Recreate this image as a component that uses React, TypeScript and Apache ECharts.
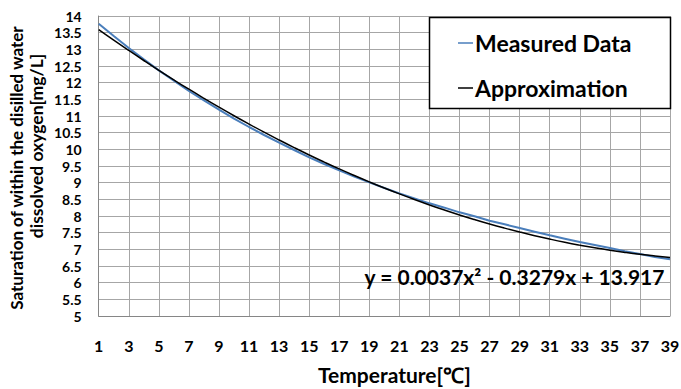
import React, { useEffect, useRef } from "react";
import * as echarts from "echarts";

const temperatures = Array.from({ length: 39 }, (_, i) => String(i + 1));
const measuredData = [
  13.77, 13.4, 13.04, 12.7, 12.37, 12.06, 11.75, 11.47, 11.19, 10.92,
  10.67, 10.43, 10.2, 9.98, 9.76, 9.56, 9.37, 9.18, 9.01, 8.84,
  8.68, 8.53, 8.38, 8.25, 8.11, 7.99, 7.86, 7.75, 7.64, 7.53,
  7.42, 7.32, 7.22, 7.13, 7.04, 6.94, 6.86, 6.77, 6.7,
];
const approximation = [
  13.593, 13.276, 12.967, 12.665, 12.37, 12.083, 11.803, 11.531, 11.266, 11.008,
  10.758, 10.515, 10.28, 10.052, 9.831, 9.618, 9.412, 9.214, 9.023, 8.839,
  8.663, 8.494, 8.333, 8.179, 8.032, 7.893, 7.761, 7.637, 7.52, 7.41,
  7.308, 7.213, 7.126, 7.046, 6.973, 6.908, 6.85, 6.8, 6.757,
];
const seriesNames = ["Measured Data", "Approximation"];
const seriesColors = ["#4a7ebb", "#000000"];
const equationText = "y = 0.0037x\u00B2 - 0.3279x + 13.917";
const xAxisTitle = "Temperature[\u2103]";
const yAxisTitleLines = ["Saturation of within the disilled water", "dissolved oxygen[mg/L]"];

const FONT = "Lato, 'Open Sans', sans-serif";

export default function App() {
  const ref = useRef<HTMLDivElement>(null);
  useEffect(() => {
    if (!ref.current) return;
    const chart = echarts.init(ref.current, null, { renderer: "svg" });
    const legendItems: any[] = [];
    seriesNames.forEach((name, i) => {
      const cy = 43 + i * 45;
      legendItems.push({
        type: "line",
        z: 7,
        shape: { x1: 458, y1: cy, x2: 473, y2: cy },
        style: { stroke: seriesColors[i], lineWidth: 1.5 },
      });
      legendItems.push({
        type: "text",
        z: 7,
        x: 475,
        y: cy,
        style: {
          text: name,
          fontFamily: FONT,
          fontWeight: "bold",
          fontSize: 23,
          fill: "#000",
          align: "left",
          verticalAlign: "middle",
        },
      });
    });
    chart.setOption({
      animation: false,
      backgroundColor: "#ffffff",
      textStyle: { fontFamily: FONT },
      grid: {
        left: 98.7,
        right: 11,
        top: 16,
        bottom: 73,
        containLabel: false,
        outerBoundsMode: "none",
      },
      xAxis: {
        type: "category",
        data: temperatures,
        boundaryGap: false,
        name: xAxisTitle,
        nameLocation: "middle",
        nameGap: 48,
        nameTextStyle: {
          fontFamily: FONT,
          fontWeight: "bold",
          fontSize: 21,
          color: "#000",
          padding: [0, 0, 0, 20],
        },
        axisLine: { show: true, lineStyle: { color: "#868686", width: 1 } },
        axisTick: { show: false },
        axisLabel: {
          interval: 1,
          margin: 21,
          fontFamily: FONT,
          fontWeight: "bold",
          fontSize: 16,
          color: "#000",
        },
        splitLine: { show: true, interval: 1, lineStyle: { color: "#a6a6a6", width: 1 } },
      },
      yAxis: {
        type: "value",
        min: 5,
        max: 14,
        interval: 0.5,
        axisLine: { show: true, lineStyle: { color: "#868686", width: 1 } },
        axisTick: { show: false },
        axisLabel: {
          margin: 17,
          fontFamily: FONT,
          fontWeight: "bold",
          fontSize: 14,
          color: "#000",
        },
        splitLine: { show: true, lineStyle: { color: "#a6a6a6", width: 1 } },
      },
      graphic: [
        {
          type: "rect",
          z: 5,
          shape: { x: 429.5, y: 17.5, width: 241, height: 91 },
          style: { fill: "#fff", stroke: "#000", lineWidth: 1.5 },
        },
        ...legendItems,
        {
          type: "text",
          z: 6,
          right: 16,
          top: 266,
          style: {
            text: equationText,
            fontFamily: FONT,
            fontWeight: "bold",
            fontSize: 21,
            fill: "#000",
          },
        },
        {
          type: "text",
          z: 6,
          x: 16,
          y: 168,
          rotation: Math.PI / 2,
          style: {
            text: yAxisTitleLines[0],
            fontFamily: FONT,
            fontWeight: "bold",
            fontSize: 17,
            fill: "#000",
            align: "center",
            verticalAlign: "middle",
          },
        },
        {
          type: "text",
          z: 6,
          x: 36,
          y: 146,
          rotation: Math.PI / 2,
          style: {
            text: yAxisTitleLines[1],
            fontFamily: FONT,
            fontWeight: "bold",
            fontSize: 17.5,
            fill: "#000",
            align: "center",
            verticalAlign: "middle",
          },
        },
      ],
      series: [
        {
          name: seriesNames[0],
          type: "line",
          data: measuredData,
          showSymbol: false,
          symbol: "none",
          lineStyle: { color: seriesColors[0], width: 2 },
          itemStyle: { color: seriesColors[0] },
          z: 3,
        },
        {
          name: seriesNames[1],
          type: "line",
          data: approximation,
          showSymbol: false,
          symbol: "none",
          smooth: true,
          lineStyle: { color: seriesColors[1], width: 1.5 },
          itemStyle: { color: seriesColors[1] },
          z: 4,
        },
      ],
    });
    return () => chart.dispose();
  }, []);
  return <div ref={ref} style={{ width: 681, height: 389, position: "absolute", left: 0, top: 0 }} />;
}
